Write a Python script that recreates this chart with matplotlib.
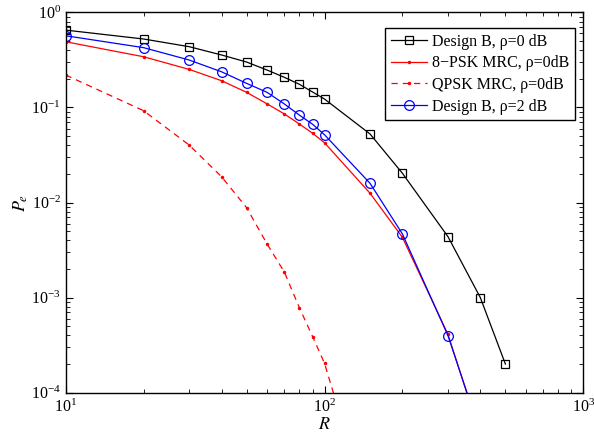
import matplotlib
matplotlib.use("Agg")
import matplotlib.pyplot as plt

# values (log-log plot)
R_design = [10, 20, 30, 40, 50, 60, 70, 80, 90, 100, 150, 200, 300, 400, 500]
pe_design_0db = [0.65, 0.524, 0.435, 0.356, 0.30, 0.247, 0.207, 0.175, 0.145,
                 0.1225, 0.0525, 0.0203, 0.00437, 0.00100, 0.000200]

R_psk = [10, 20, 30, 40, 50, 60, 70, 80, 90, 100, 150, 200, 300, 400]
pe_8psk = [0.49, 0.341, 0.251, 0.191, 0.144, 0.109, 0.0853, 0.0669, 0.0534,
           0.0425, 0.0125, 0.0043, 0.00041, 0.000036]
pe_qpsk = [0.219, 0.0923, 0.0402, 0.0187, 0.00882, 0.00366, 0.00185, 0.00078,
           0.000388, 0.000204, 0.0000052, 0.0000005, 0.00000001, 0.000000001]

R_design2 = [10, 20, 30, 40, 50, 60, 70, 80, 90, 100, 150, 200, 300, 400]
pe_design_2db = [0.567, 0.425, 0.315, 0.237, 0.179, 0.144, 0.1086, 0.083,
                 0.0664, 0.0516, 0.0159, 0.00467, 0.000398, 0.000038]

labels = ["Design B, \u03c1=0 dB", "8\u2212PSK MRC, \u03c1=0dB",
          "QPSK MRC, \u03c1=0dB", "Design B, \u03c1=2 dB"]

plt.rcParams["font.family"] = ["Liberation Serif", "DejaVu Serif"]
plt.rcParams["mathtext.fontset"] = "stix"

fig = plt.figure(figsize=(5.94, 4.32), dpi=100)
ax = fig.add_axes([0.1106, 0.091, 0.8714, 0.8805])

ax.loglog(R_design, pe_design_0db, "k-s", lw=0.9, ms=5.5, mfc="none", mew=0.9,
          label=labels[0])
ax.loglog(R_psk, pe_8psk, "r-", marker=".", lw=0.9, ms=3, label=labels[1])
ax.loglog(R_psk, pe_qpsk, "r--", marker=".", lw=0.9, ms=3, dashes=(5, 4),
          label=labels[2])
ax.loglog(R_design2, pe_design_2db, "b-o", lw=0.9, ms=7, mfc="none", mew=0.9,
          label=labels[3])

ax.set_xlim(10, 1000)
ax.set_ylim(1e-4, 1)
ax.set_xlabel("$R$", fontsize=13)
ax.set_ylabel("$P_e$", fontsize=13)
ax.xaxis.set_label_coords(0.5, -0.062)
ax.yaxis.set_label_coords(-0.069, 0.5)

ax.tick_params(which="both", direction="in", top=True, right=True, labelsize=11.5)
ax.tick_params(axis="x", which="major", pad=4.5)
ax.tick_params(which="major", length=5)
ax.tick_params(which="minor", length=3)
for s in ax.spines.values():
    s.set_linewidth(1.0)

leg = ax.legend(loc="upper right", bbox_to_anchor=(0.984, 0.958),
                borderaxespad=0, fancybox=False, framealpha=1, edgecolor="k",
                fontsize=11.5, handlelength=2.3, handletextpad=0.3,
                labelspacing=0.35, borderpad=0.35)
leg.get_frame().set_linewidth(1.0)

fig.savefig("out.png", dpi=100)
